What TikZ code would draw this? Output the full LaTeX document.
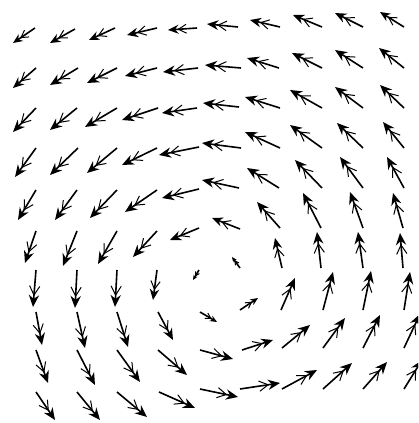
\documentclass[tikz,border=0pt]{standalone}
\usetikzlibrary{arrows.meta}
\begin{document}
\begin{tikzpicture}[x=1pt,y=-1pt]
\useasboundingbox (0,0) rectangle (418,423);
\fill[white] (0,0) rectangle (418,423);
\clip (0,0) rectangle (418,423);
\tikzset{vec/.style={line width=1.6pt,black}}
\foreach \tx/\ty/\hx/\hy in {
35/28/13/43, 75/29/50/43, 115/28/89/40, 157/28/127/35, 197/28/168/30,
238/27/207/24, 280/27/250/20, 322/27/293/15, 363/27/335/13, 404/27/380/12,
36/68/13/88, 78/68/50/85, 117/68/87/83, 157/68/125/76, 198/68/163/72,
241/68/205/65, 279/68/247/58, 322/68/292/53, 363/68/335/50, 404/68/379/48,
36/108/13/132, 77/108/50/130, 117/108/85/127, 158/108/122/120, 197/108/162/113,
239/107/203/103, 280/108/245/97, 322/108/290/90, 363/108/335/87, 404/108/380/85,
36/148/15/177, 78/148/50/175, 117/148/87/173, 157/148/122/165, 199/147/159/155,
241/148/202/143, 280/148/245/132, 322/148/290/125, 363/148/337/123, 404/148/383/122,
36/190/18/220, 77/190/55/220, 117/190/90/218, 157/190/125/212, 199/189/162/198,
239/188/202/180, 279/188/247/168, 322/188/295/160, 363/188/340/157, 404/188/387/157,
36/231/25/263, 77/231/63/266, 117/231/98/264, 157/231/133/257, 199/228/170/240,
240/229/212/218, 280/228/257/202, 321/228/303/193, 363/228/350/192, 403/228/393/193,
36/270/33/307, 77/270/75/308, 117/270/115/307, 157/270/153/300, 199/270/193/280,
240/268/232/257, 282/268/275/238, 321/268/317/232, 363/268/358/232, 403/268/400/233,
36/312/42/345, 77/312/85/348, 117/312/128/347, 158/312/173/340, 200/312/217/322,
240/310/258/298, 281/310/295/278, 323/310/333/272, 363/310/371/271, 404/310/410/272,
36/350/48/383, 77/350/95/385, 117/350/140/382, 158/350/187/375, 200/350/233/359,
242/350/273/340, 282/348/310/325, 323/348/345/318, 363/348/380/315, 404/348/420/314,
36/392/55/420, 77/392/100/420, 117/392/147/417, 159/392/195/408, 200/389/238/397,
240/389/280/383, 282/389/317/370, 323/389/352/363, 363/389/387/362, 404/389/422/360}{
  \pgfmathsetmacro\L{veclen(\hx-\tx,\hy-\ty)}
  \pgfmathsetmacro\hl{min(12,max(5,0.36*\L))}
  \pgfmathsetmacro\hw{0.85*\hl}
  \pgfmathsetmacro\bl{0.75*\hl}
  \draw[vec,-{Straight Barb[length=\bl pt,width=\hw pt,line width=1pt,sep=-1pt]Stealth[length=\hl pt,width=\hw pt]}] (\tx,\ty) -- (\hx,\hy);
}
\end{tikzpicture}
\end{document}
